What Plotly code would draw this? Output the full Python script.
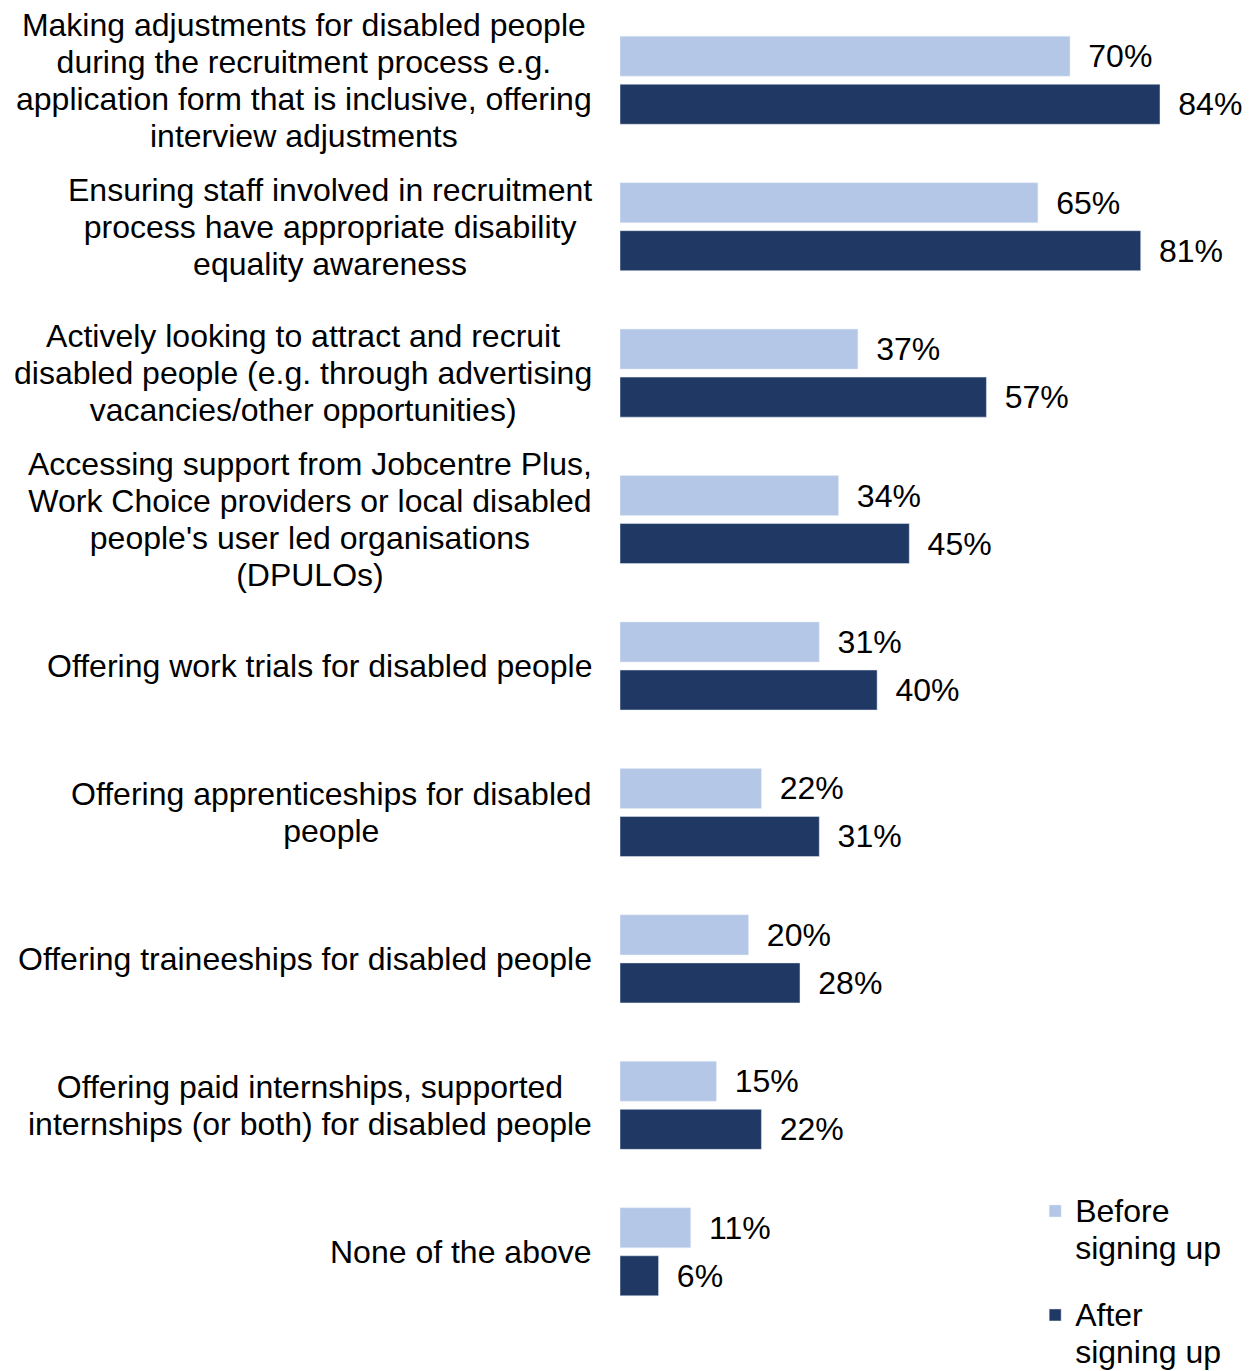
import plotly.graph_objects as go

# Recruitment actions taken by employers, before vs after signing up
categories = [
    "Making adjustments for disabled people<br>during the recruitment process e.g.<br>application form that is inclusive, offering<br>interview adjustments",
    "Ensuring staff involved in recruitment<br>process have appropriate disability<br>equality awareness",
    "Actively looking to attract and recruit<br>disabled people (e.g. through advertising<br>vacancies/other opportunities)",
    "Accessing support from Jobcentre Plus,<br>Work Choice providers or local disabled<br>people's user led organisations<br>(DPULOs)",
    "Offering work trials for disabled people",
    "Offering apprenticeships for disabled<br>people",
    "Offering traineeships for disabled people",
    "Offering paid internships, supported<br>internships (or both) for disabled people",
    "None of the above",
]
before_signing_up = [70, 65, 37, 34, 31, 22, 20, 15, 11]
after_signing_up = [84, 81, 57, 45, 40, 31, 28, 22, 6]
series_names = ["Before<br>signing up", "After<br>signing up"]

FONT = "Liberation Sans, Arial, sans-serif"
LIGHT = "#B4C7E7"
DARK = "#203864"
TEXT_SIZE = 32
# base size chosen so that plotly's 1.3em line step gives ~37px between lines
BASE_SIZE = 37 / 1.3


def sized(label):
    """Wrap every line in a span at the display size, keeping tight line spacing."""
    return "<br>".join(
        f'<span style="font-size:{TEXT_SIZE}px">{line}</span>'
        for line in label.split("<br>")
    )


fig = go.Figure()
for values, name, color, group in [
    (before_signing_up, series_names[0], LIGHT, "before"),
    (after_signing_up, series_names[1], DARK, "after"),
]:
    fig.add_trace(go.Bar(
        y=categories, x=values, orientation="h",
        name=sized(name), marker_color=color, legendgroup=group,
        texttemplate="\u00a0\u2009%{x}%", textposition="outside",
        textfont=dict(family=FONT, size=TEXT_SIZE, color="black"),
        cliponaxis=False, constraintext="none",
    ))

# Category labels: centred text blocks set against the left of the bars
for cat in categories:
    fig.add_annotation(
        x=0, xref="paper", y=cat, yref="y",
        text=sized(cat), showarrow=False, xanchor="right", yanchor="middle",
        align="center", xshift=-26,
        font=dict(family=FONT, size=BASE_SIZE, color="black"),
    )

fig.update_layout(
    width=1250, height=1371,
    margin=dict(l=620, r=0, t=7, b=46, autoexpand=False),
    paper_bgcolor="white", plot_bgcolor="white",
    barmode="group", bargap=0.344, bargroupgap=0.167,
    font=dict(family=FONT, size=TEXT_SIZE, color="black"),
    xaxis=dict(range=[0, 98], showgrid=False, zeroline=False,
               showticklabels=False, showline=False, ticks=""),
    yaxis=dict(range=[8.5, -0.5], showgrid=False, zeroline=False,
               showticklabels=False, showline=False, ticks=""),
    legend=dict(
        x=0.659, y=0.1055, xanchor="left", yanchor="top",
        traceorder="grouped", tracegroupgap=27, valign="top",
        font=dict(family=FONT, size=BASE_SIZE, color="black"),
        bgcolor="rgba(0,0,0,0)",
    ),
    showlegend=True,
)

fig.write_html("out.html")
